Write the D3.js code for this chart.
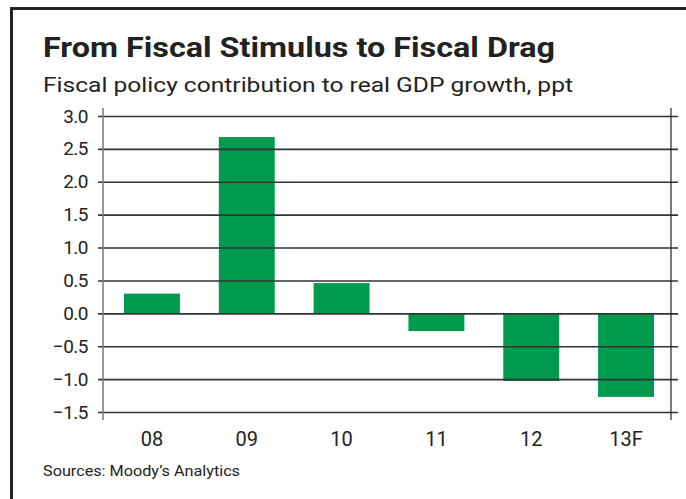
<!DOCTYPE html>
<html>
<head>
<meta charset="utf-8">
<script src="https://cdn.jsdelivr.net/npm/d3@7/dist/d3.min.js"></script>
<style>
  body { margin: 0; background: #fff; }
  svg text { font-family: Roboto, "Liberation Sans", sans-serif; fill: #222; }
</style>
</head>
<body>
<svg id="chart"></svg>
<script>
// chart data
const years = ['08', '09', '10', '11', '12', '13F'];
const contribution = [0.3, 2.68, 0.46, -0.27, -1.03, -1.27];
const yTicks = [3.0, 2.5, 2.0, 1.5, 1.0, 0.5, 0.0, -0.5, -1.0, -1.5];

const width = 686, height = 499;
const plot = { left: 103, right: 671, top: 116, bottom: 412 };

const svg = d3.select('#chart').attr('width', width).attr('height', height);

// frame
svg.append('path')
  .attr('d', `M11.5,${height} V8.5 H${width}`)
  .attr('fill', 'none')
  .attr('stroke', '#222')
  .attr('stroke-width', 3);

// titles
svg.append('text')
  .attr('x', 43).attr('y', 57)
  .attr('font-size', 27).attr('font-weight', 'bold')
  .attr('textLength', 512).attr('lengthAdjust', 'spacingAndGlyphs')
  .text('From Fiscal Stimulus to Fiscal Drag');

svg.append('text')
  .attr('x', 43).attr('y', 92)
  .attr('font-size', 20)
  .attr('textLength', 530).attr('lengthAdjust', 'spacingAndGlyphs')
  .text('Fiscal policy contribution to real GDP growth, ppt');

// bars sit slightly right of the frame centre, so the band range is nudged
const x = d3.scaleBand()
  .domain(years)
  .range([plot.left + 2, plot.right + 2])
  .paddingInner(0.41)
  .paddingOuter(0.2);

const y = d3.scaleLinear()
  .domain([-1.5, 3.0])
  .range([plot.bottom, plot.top]);

// bars
svg.append('g')
  .selectAll('rect')
  .data(contribution)
  .join('rect')
  .attr('x', (d, i) => x(years[i]))
  .attr('width', x.bandwidth())
  .attr('y', d => y(Math.max(0, d)))
  .attr('height', d => Math.abs(y(d) - y(0)))
  .attr('fill', '#009a4e');

// gridlines with tick stubs on both sides
const yAxis = d3.axisLeft(y)
  .tickValues(yTicks)
  .tickSize(-(plot.right - plot.left) - 7)
  .tickPadding(12)
  .tickFormat(d3.format('.1f'));

const gy = svg.append('g')
  .attr('transform', `translate(${plot.left - 5},0)`)
  .call(yAxis);
gy.select('.domain').remove();
gy.selectAll('.tick line')
  .attr('x1', 0)
  .attr('x2', plot.right - plot.left + 12)
  .attr('stroke', '#333')
  .attr('stroke-width', 1.6);
gy.selectAll('.tick text')
  .attr('x', -10)
  .attr('font-size', 19)
  .attr('font-family', '"DejaVu Sans", sans-serif')
  .attr('letter-spacing', -0.5)
  .style('fill', '#222');

// vertical frame lines of the plot
svg.append('line')
  .attr('x1', plot.left).attr('x2', plot.left)
  .attr('y1', 108).attr('y2', 420)
  .attr('stroke', '#777').attr('stroke-width', 1.5);
svg.append('line')
  .attr('x1', plot.right).attr('x2', plot.right)
  .attr('y1', 108).attr('y2', 420)
  .attr('stroke', '#222').attr('stroke-width', 1.2);

// category labels
const xAxis = d3.axisBottom(x).tickSize(0).tickPadding(0);
const gx = svg.append('g')
  .attr('transform', `translate(0,${plot.bottom})`)
  .call(xAxis);
gx.select('.domain').remove();
gx.selectAll('.tick text')
  .attr('y', 34)
  .attr('dy', 0)
  .attr('font-size', 20)
  .style('fill', '#222');

// source note
svg.append('text')
  .attr('x', 43).attr('y', 476)
  .attr('font-size', 15)
  .attr('textLength', 197).attr('lengthAdjust', 'spacingAndGlyphs')
  .text('Sources: Moody\u2019s Analytics');
</script>
</body>
</html>
